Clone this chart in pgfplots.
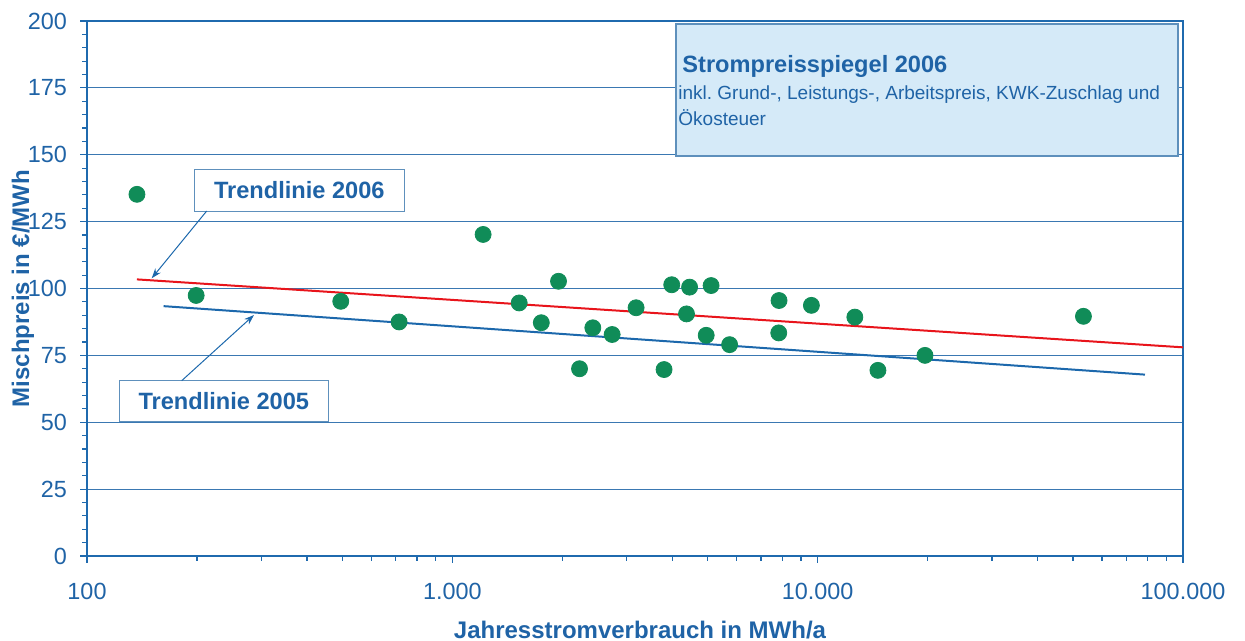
\documentclass[border=0pt]{standalone}
\usepackage{fontspec}
\setmainfont{Liberation Sans}
\usepackage{pgfplots}
\pgfplotsset{compat=1.18}
\usetikzlibrary{arrows.meta}
\definecolor{txt}{HTML}{1F63A6}
\definecolor{axblue}{HTML}{1F6AAE}
\definecolor{gridc}{HTML}{3A78B2}
\definecolor{dot}{HTML}{108C58}
\definecolor{trred}{HTML}{E8141B}
\definecolor{trblue}{HTML}{1C68AC}
\definecolor{boxfill}{HTML}{D5EAF8}
\definecolor{boxline}{HTML}{5E90BC}
\frenchspacing

\begin{document}
\begin{tikzpicture}
\path[use as bounding box] (0,0) rectangle (622.5pt,320.5pt);
\begin{axis}[
  at={(43.5pt,42.5pt)}, anchor=south west,
  scale only axis, width=548pt, height=267.5pt,
  xmode=log, xmin=100, xmax=100000, ymin=0, ymax=200,
  xtick={100,1000,10000,100000}, xticklabels={100,1.000,10.000,100.000},
  minor xtick={200,300,400,500,600,700,800,900,2000,3000,4000,5000,6000,7000,8000,9000,20000,30000,40000,50000,60000,70000,80000,90000},
  ytick={0,25,...,200}, minor y tick num=4,
  tick align=outside, tick pos=left,
  major tick length=3.5pt, minor tick length=2.5pt,
  every tick/.style={axblue, line width=0.6pt},
  axis line style={axblue, line width=1.2pt},
  ymajorgrids, major grid style={gridc, line width=0.6pt},
  tick label style={txt, font=\fontsize{11.7}{13}\selectfont},
  xticklabel style={yshift=-6.5pt},
  yticklabel style={xshift=-3pt},
  /pgf/number format/assume math mode=true,
  xlabel={Jahresstromverbrauch in MWh/a}, ylabel={Mischpreis in €/MWh},
  every axis x label/.style={at={(rel axis cs:0.5,0)}, xshift=2.5pt, yshift=-37pt, anchor=center},
  every axis y label/.style={at={(rel axis cs:0,0.5)}, xshift=-32pt, rotate=90, anchor=center},
  label style={txt, font=\bfseries\fontsize{12}{14}\selectfont},
  clip=false,
]
\addplot[only marks, mark=*, mark size=4pt, mark options={draw=dot, fill=dot}] coordinates {
(137,135.2)(199,97.4)(495,95.2)(715,87.5)(1214,120.2)(1953,102.7)(1524,94.6)
(1752,87.2)(2424,85.3)(2229,70.0)(2738,82.8)(3184,92.8)(3798,69.7)(3987,101.4)
(4461,100.5)(4375,90.5)(5108,101.1)(4953,82.5)(5741,79.0)(7840,95.5)(7826,83.4)
(9612,93.7)(12640,89.3)(14620,69.4)(19670,75.0)(53390,89.6)};
% Trendlinie 2006
\addplot[trred, line width=1pt] coordinates {(137,103.4)(100000,78.0)};
% Trendlinie 2005
\addplot[trblue, line width=1pt] coordinates {(162,93.4)(78700,67.8)};
\end{axis}

% annotations in pixel units of the reference
\begin{scope}[x=0.5pt,y=-0.5pt,shift={(0pt,320.5pt)}]
\draw[boxline, fill=boxfill, line width=0.6pt] (676,24) rectangle (1178,156);
\node[anchor=west, text=txt, inner sep=0, font=\bfseries\fontsize{11.8}{13}\selectfont] at (682,66) {Strompreisspiegel 2006};
\node[anchor=west, text=txt, inner sep=0, font=\fontsize{9.5}{11}\selectfont] at (678,95) {inkl. Grund-, Leistungs-, Arbeitspreis, KWK-Zuschlag und};
\node[anchor=west, text=txt, inner sep=0, font=\fontsize{9.5}{11}\selectfont] at (678,118) {Ökosteuer};

\node[draw=boxline, fill=white, line width=0.6pt, minimum width=105pt, minimum height=21pt, inner sep=0,
  text=txt, font=\bfseries\fontsize{11.8}{13}\selectfont] at (299.3,190.2) {Trendlinie 2006};
\draw[-{Stealth[length=5pt,width=3.5pt]}, trblue, line width=0.5pt] (206.7,211) -- (151.7,278.3);

\node[draw=boxline, fill=white, line width=0.6pt, minimum width=104.5pt, minimum height=20.5pt, inner sep=0,
  text=txt, font=\bfseries\fontsize{11.8}{13}\selectfont] at (223.8,401.2) {Trendlinie 2005};
\draw[-{Stealth[length=5pt,width=3.5pt]}, trblue, line width=0.5pt] (181.7,380.7) -- (254,315);
\end{scope}
\end{tikzpicture}
\end{document}
